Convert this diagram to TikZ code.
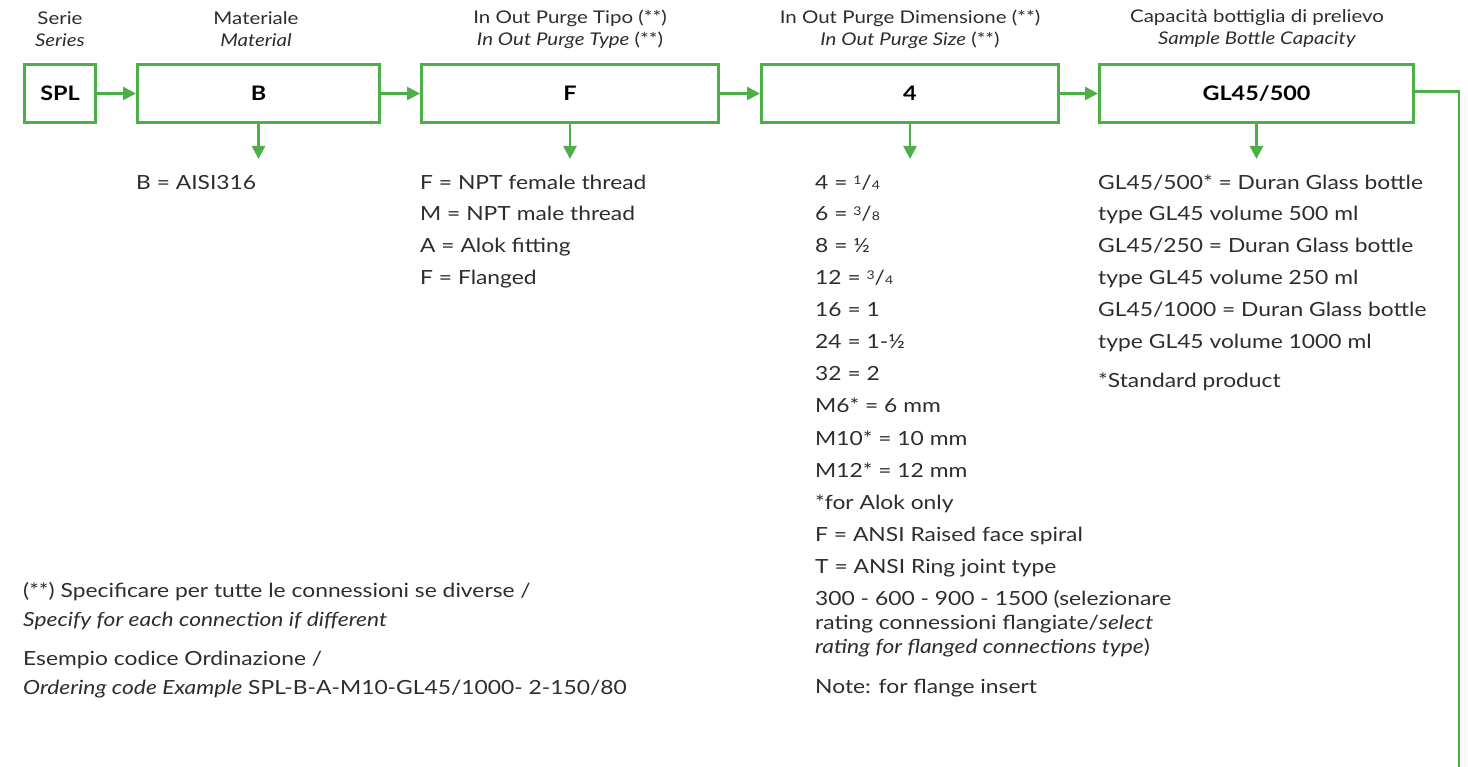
\documentclass[tikz,border=0pt]{standalone}
\usepackage{fontspec}
\setmainfont{Lato}[FakeStretch=1.17]
\usetikzlibrary{arrows.meta}
\definecolor{grn}{RGB}{76,175,72}
\definecolor{txt}{RGB}{45,45,45}
\newcommand{\myfr}[2]{\raisebox{0.6ex}{\fontsize{12}{12}\selectfont #1}/{\fontsize{12}{12}\selectfont #2}}
\begin{document}
\begin{tikzpicture}[x=1pt,y=-1pt,
  box/.style={draw=grn,line width=2.6pt,minimum height=58.4pt,inner sep=0pt,font=\fontsize{20}{24}\selectfont\bfseries,text=black},
  arr/.style={draw=grn,line width=2.6pt,-{Triangle[length=13pt,width=13pt]}},
  ln/.style={draw=grn,line width=2.6pt},
  hdr/.style={align=center,inner sep=0pt,font=\fontsize{17.5}{22}\selectfont,text=txt},
  lst/.style={anchor=base west,inner sep=0pt,font=\fontsize{19.5}{24}\selectfont,text=txt},
  par/.style={anchor=base west,inner sep=0pt,align=left,font=\fontsize{19.5}{24}\selectfont,text=txt}]
\useasboundingbox (0,0) rectangle (1468,767);
% headers
\node[hdr] (h1) at (60,29) {Serie\\\textit{Series}};
\node[hdr] (h2) at (256,29) {Materiale\\\textit{Material}};
\node[hdr] (h3) at (570,29) {In Out Purge Tipo (**)\\\textit{In Out Purge Type} (**)};
\node[hdr] (h4) at (910,29) {In Out Purge Dimensione (**)\\\textit{In Out Purge Size} (**)};
\node[hdr] (h5) at (1257,29) {Capacità bottiglia di prelievo\\\textit{Sample Bottle Capacity}};
% boxes
\node[box,minimum width=71.4pt] (spl) at (60,93.5) {SPL};
\node[box,minimum width=242.4pt] (b) at (258.5,93.5) {B};
\node[box,minimum width=297.4pt] (f) at (570,93.5) {F};
\node[box,minimum width=297.4pt] (d) at (910,93.5) {4};
\node[box,minimum width=314.4pt] (gl) at (1256.5,93.5) {GL45/500};
\draw[arr] (spl.east) -- (b.west);
\draw[arr] (b.east) -- (f.west);
\draw[arr] (f.east) -- (d.west);
\draw[arr] (d.east) -- (gl.west);
% down arrows
\draw[arr] (b.south) -- ++(0,35);
\draw[arr] (f.south) -- ++(0,35);
\draw[arr] (d.south) -- ++(0,35);
\draw[arr] (gl.south) -- ++(0,35);
% right line
\coordinate (endpt) at (1459,767);
\draw[ln] ([yshift=2pt]gl.east) -| (endpt);
% column B
\node[lst] (b1) at (136,190) {B = AISI316};
% column F
\node[lst] (f1) at (420,190) {F = NPT female thread};
\node[lst] (f2) at (420,221) {M = NPT male thread};
\node[lst] (f3) at (420,253) {A = Alok fitting};
\node[lst] (f4) at (420,285) {F = Flanged};
% column 4
\node[lst] (d1) at (815,190) {4 = \myfr{1}{4}};
\node[lst] (d2) at (815,221) {6 = \myfr{3}{8}};
\node[lst] (d3) at (815,253) {8 = ½};
\node[lst] (d4) at (815,285) {12 = \myfr{3}{4}};
\node[lst] (d5) at (815,317) {16 = 1};
\node[lst] (d6) at (815,349) {24 = 1-½};
\node[lst] (d7) at (815,381) {32 = 2};
\node[lst] (d8) at (815,413) {M6* = 6 mm};
\node[lst] (d9) at (815,445) {M10* = 10 mm};
\node[lst] (d10) at (815,477) {M12* = 12 mm};
\node[lst] (d11) at (815,509) {*for Alok only};
\node[lst] (d12) at (815,541) {F = ANSI Raised face spiral};
\node[lst] (d13) at (815,573) {T = ANSI Ring joint type};
\node[lst] (d14) at (815,605) {300 - 600 - 900 - 1500 (selezionare};
\node[lst] (d15) at (815,629) {rating connessioni flangiate/\textit{select}};
\node[lst] (d16) at (815,653) {\textit{rating for flanged connections type})};
\node[lst] (d17) at (815,693) {Note: for flange insert};
% column GL
\node[lst] (g1) at (1098,190) {GL45/500* = Duran Glass bottle};
\node[lst] (g2) at (1098,221) {type GL45 volume 500 ml};
\node[lst] (g3) at (1098,253) {GL45/250 = Duran Glass bottle};
\node[lst] (g4) at (1098,285) {type GL45 volume 250 ml};
\node[lst] (g5) at (1098,317) {GL45/1000 = Duran Glass bottle};
\node[lst] (g6) at (1098,349) {type GL45 volume 1000 ml};
\node[lst] (g7) at (1098,388) {*Standard product};
% notes
\node[lst] (n1) at (23,597) {(**) Specificare per tutte le connessioni se diverse /};
\node[lst] (n2) at (23,626) {\textit{Specify for each connection if different}};
\node[lst] (n3) at (23,665) {Esempio codice Ordinazione /};
\node[lst] (n4) at (23,694) {\textit{Ordering code Example} SPL-B-A-M10-GL45/1000- 2-150/80};
\end{tikzpicture}
\end{document}
